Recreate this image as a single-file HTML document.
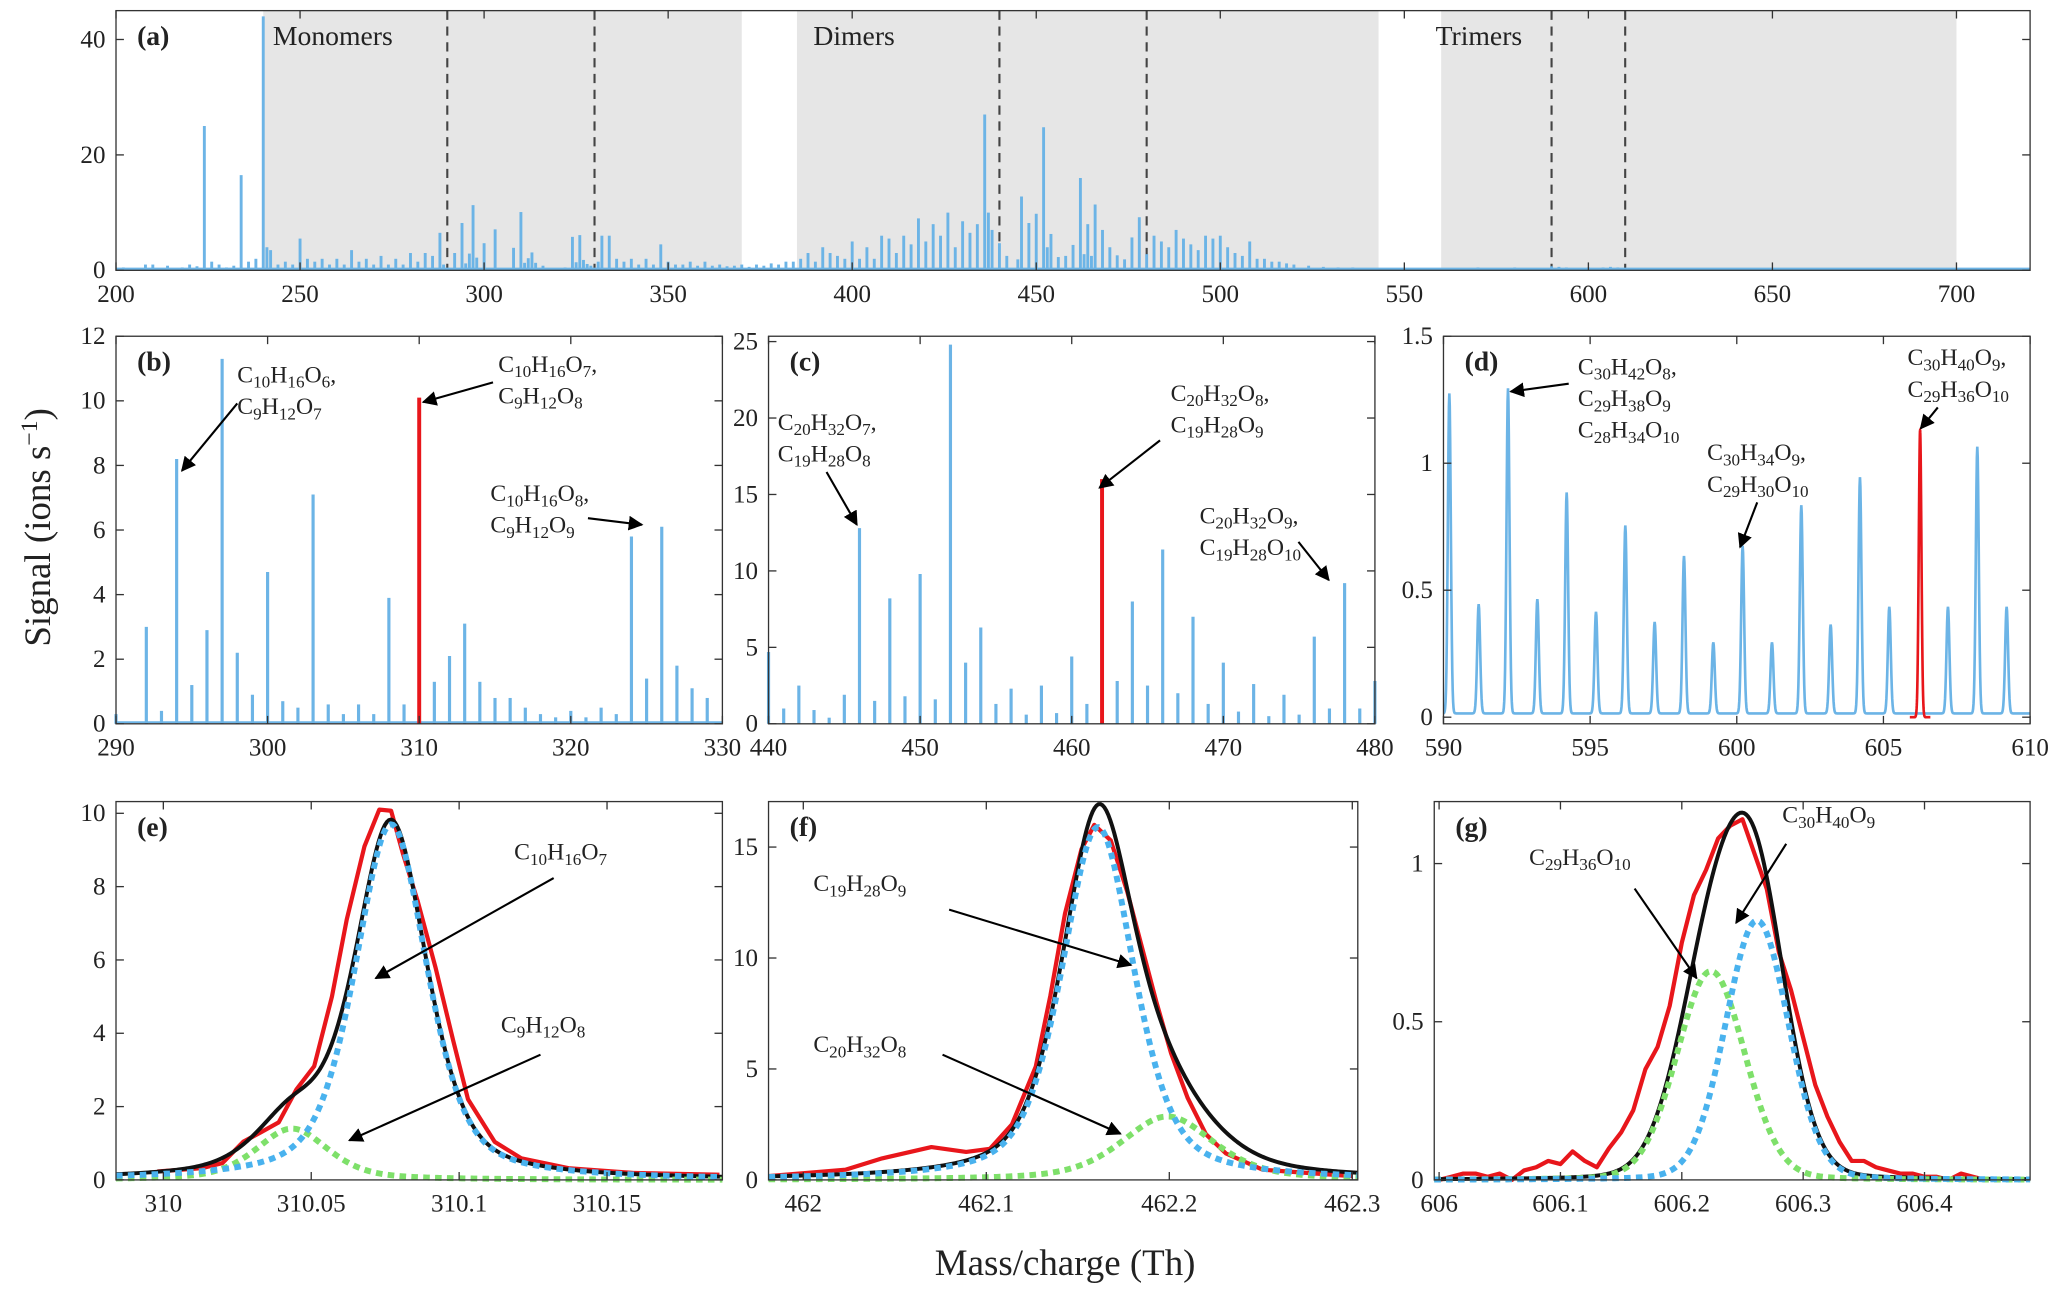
<!DOCTYPE html>
<html><head><meta charset="utf-8"><style>
html,body{margin:0;padding:0;background:#fff}
svg{display:block}
text{font-family:"Liberation Serif","DejaVu Serif",serif;fill:#222}
</style></head><body>
<svg id="fig" width="2067" height="1296" viewBox="0 0 1568 983" font-family="'Liberation Serif', 'DejaVu Serif', serif" xmlns="http://www.w3.org/2000/svg">
<defs><marker id="ah" viewBox="0 0 10 10" refX="9" refY="5" markerWidth="7" markerHeight="7" orient="auto"><path d="M0,0 L10,5 L0,10 z" fill="#000"/></marker></defs>
</svg>
<script>
// ---- Panel (a) data ----
const aMass=[202,205,208,210,214,218,220,222,224,226,228,230,232,234,236,238,240,241,242,244,246,248,250,252,254,256,258,260,262,264,266,268,270,272,274,276,278,280,282,284,286,288,289,
290,292,294,295,296,297,298,300,303,308,310,311,312,313,314,316,318,320,322,324,325,326,327,328,329,
331,332,334,336,338,340,342,344,346,348,350,352,354,356,358,360,362,364,366,368,370,372,374,376,378,380,382,384,386,388,390,392,394,396,398,400,402,404,406,408,410,412,414,416,418,420,422,424,426,428,430,432,434,436,437,438,
440,442,445,446,448,450,452,453,454,456,458,460,462,463,464,465,466,468,470,472,474,476,478,480,
482,484,486,488,490,492,494,496,498,500,502,504,506,508,510,512,514,516,518,520,524,528,532,536,540,545,550,560,570,580,590,592,594,600,604,606,608,615,630,650,680,700];
const aVal=[0.5,0.3,1,1,0.8,0.5,1,0.7,25,1.5,1,0.5,0.8,16.5,1.5,2,44,4,3.5,1,1.5,1,5.5,2,1.5,2,1,2,1,3.5,1.5,2,1,2.5,1,2,1,3,1.5,3,2.5,6.5,1,
0.3,3,8.2,1.2,2.9,11.3,2.2,4.7,7.1,3.9,10.1,1.3,2.1,3.1,1.3,0.8,0.3,0.4,0.5,5.8,1.4,6.1,1.8,1.1,0.8,
1.5,6,6,2,1.5,2,1,2,1,4.5,1.5,1,1,1.5,0.8,1.5,0.8,1,0.7,0.8,1,0.6,1,0.8,1.2,1,1.5,1.5,2,3,1.5,4,3,2.5,2,5,2,4,2,6,5.5,3,6,4.5,9,5,8,6,10,4,8.5,6.5,8,27,10,7,
4.7,2.5,1.9,12.8,8.2,9.8,24.8,4,6.3,2.3,2.5,4.4,16,2.8,8,2.5,11.4,7,4,2.6,1.9,5.7,9.2,2.8,
6,5,4,7,5.5,4.5,3.5,6,5.5,6,4,3,2.5,5,2,2,1.5,1.5,1.2,1,0.8,0.6,0.5,0.5,0.4,0.3,0.3,0.4,0.5,0.5,0.7,0.6,0.5,0.5,0.5,0.6,0.5,0.3,0.3,0.2,0.2,0.1];
const aXTicks=[200,250,300,350,400,450,500,550,600,650,700];
const aYTicks=[0,20,40];
const aShade=[[240,370],[385,543],[560,700]];
const aDashes=[290,330,440,480,590,610];
// ---- Panel (b) ----
const bMass=[290,292,293,294,295,296,297,298,299,300,301,302,303,304,305,306,307,308,309,311,312,313,314,315,316,317,318,319,320,321,322,323,324,325,326,327,328,329];
const bVal=[0.3,3.0,0.4,8.2,1.2,2.9,11.3,2.2,0.9,4.7,0.7,0.5,7.1,0.6,0.3,0.6,0.3,3.9,0.6,1.3,2.1,3.1,1.3,0.8,0.8,0.5,0.3,0.2,0.4,0.2,0.5,0.3,5.8,1.4,6.1,1.8,1.1,0.8];
const bRed=[[310,10.1]];
const bXTicks=[290,300,310,320,330];
const bYTicks=[0,2,4,6,8,10,12];
// ---- Panel (c) ----
const cMass=[440,441,442,443,444,445,446,447,448,449,450,451,452,453,454,455,456,457,458,459,460,461,463,464,465,466,467,468,469,470,471,472,473,474,475,476,477,478,479,480];
const cVal=[4.7,1.0,2.5,0.9,0.4,1.9,12.8,1.5,8.2,1.8,9.8,1.6,24.8,4.0,6.3,1.3,2.3,0.6,2.5,0.7,4.4,1.3,2.8,8.0,2.5,11.4,2.0,7.0,1.3,4.0,0.8,2.6,0.5,1.9,0.6,5.7,1.0,9.2,1.0,2.8];
const cRed=[[462,16.0]];
const cXTicks=[440,450,460,470,480];
const cYTicks=[0,5,10,15,20,25];
// ---- Panel (d) ----
const dMass=[590.2,591.2,592.2,593.2,594.2,595.2,596.2,597.2,598.2,599.2,600.2,601.2,602.2,603.2,604.2,605.2,607.2,608.2,609.2];
const dVal=[1.26,0.43,1.28,0.45,0.87,0.40,0.74,0.36,0.62,0.28,0.66,0.28,0.82,0.35,0.93,0.42,0.42,1.05,0.42];
const dRed=[[606.25,1.13]];
const dXTicks=[590,595,600,605,610];
const dYTicks=[0,0.5,1,1.5];
// ---- Panel (e) ----
const eRedX=[309.972,309.983,309.998,310.013,310.02,310.027,310.033,310.039,310.045,310.051,310.057,310.062,310.068,310.073,310.077,310.081,310.086,310.092,310.098,310.103,310.112,310.121,310.137,310.159,310.188];
const eRedY=[0.16,0.23,0.23,0.32,0.46,1.04,1.3,1.57,2.47,3.1,5.0,7.1,9.1,10.1,10.07,8.9,7.6,5.8,3.8,2.2,1.04,0.59,0.32,0.19,0.14];
const eComp=[[310.077,9.7,0.029],[310.0435,1.4,0.029]];
const eEta=0.5;
const eXTicks=[310,310.05,310.1,310.15];
const eYTicks=[0,2,4,6,8,10];
// ---- Panel (f) ----
const fRedX=[461.981,462.023,462.043,462.07,462.089,462.102,462.114,462.127,462.135,462.143,462.152,462.159,462.168,462.177,462.185,462.193,462.201,462.21,462.22,462.231,462.251,462.276,462.3];
const fRedY=[0.17,0.46,0.97,1.48,1.26,1.4,2.5,5.1,8.3,12.0,14.9,16.0,15.3,13.0,10.5,8.0,5.7,3.7,2.06,1.19,0.46,0.31,0.17];
const fComp=[[462.161,15.9,0.047],[462.199,2.86,0.06]];
const fEta=0.5;
const fXTicks=[462,462.1,462.2,462.3];
const fYTicks=[0,5,10,15];
// ---- Panel (g) ----
const gRedX=[606,606.01,606.02,606.03,606.04,606.05,606.06,606.07,606.08,606.09,606.1,606.11,606.12,606.13,606.14,606.15,606.16,606.17,606.18,606.19,606.2,606.21,606.22,606.23,606.24,606.25,606.26,606.27,606.28,606.29,606.3,606.31,606.32,606.33,606.34,606.35,606.36,606.37,606.38,606.39,606.4,606.41,606.42,606.43,606.44,606.45];
const gRedY=[0,0.01,0.02,0.02,0.01,0.02,0,0.03,0.04,0.06,0.05,0.09,0.06,0.04,0.1,0.15,0.22,0.35,0.42,0.55,0.75,0.9,0.98,1.08,1.12,1.14,1.03,0.92,0.72,0.6,0.45,0.3,0.2,0.12,0.06,0.06,0.04,0.03,0.02,0.02,0.01,0.01,0,0.02,0.01,0];
const gComp=[[606.262,0.82,0.061],[606.224,0.66,0.066]];
const gEta=0.1;
const gXTicks=[606,606.1,606.2,606.3,606.4];
const gYTicks=[0,0.5,1];

const NS="http://www.w3.org/2000/svg";
const svg=document.getElementById('fig');
function mk(tag,attrs,parent){const e=document.createElementNS(NS,tag);for(const k in attrs)e.setAttribute(k,attrs[k]);(parent||svg).appendChild(e);return e;}
function axis(x0,x1,y0,y1,xmin,xmax,ymin,ymax){
  return {x:v=>x0+(v-xmin)/(xmax-xmin)*(x1-x0), y:v=>y1-(v-ymin)/(ymax-ymin)*(y1-y0), x0,x1,y0,y1};
}
function frame(ax,xt,yt,xfmt,yfmt,name,label){
  const g=mk('g',{});
  
  
  const r=mk('rect',{x:ax.x0,y:ax.y0,width:ax.x1-ax.x0,height:ax.y1-ax.y0,fill:'none',stroke:'#333','stroke-width':1},g);
  
  
  xt.forEach(v=>{const X=ax.x(v);
    mk('line',{x1:X,x2:X,y1:ax.y1,y2:ax.y1-6,stroke:'#333'},g);
    mk('line',{x1:X,x2:X,y1:ax.y0,y2:ax.y0+6,stroke:'#333'},g);
    const t=mk('text',{x:X,y:ax.y1+24,'text-anchor':'middle','font-size':19},g);t.textContent=xfmt(v);
    
    
  });
  yt.forEach(v=>{const Y=ax.y(v);
    mk('line',{x1:ax.x0,x2:ax.x0+6,y1:Y,y2:Y,stroke:'#333'},g);
    mk('line',{x1:ax.x1,x2:ax.x1-6,y1:Y,y2:Y,stroke:'#333'},g);
    const t=mk('text',{x:ax.x0-8,y:Y+6,'text-anchor':'end','font-size':19},g);t.textContent=yfmt(v);
    
    
  });
  const l=mk('text',{x:ax.x0+16,y:ax.y0+26,'font-size':21,'font-weight':'bold'},g);l.textContent=label;
  
  
}
function formula(x,y,str,name){
  const t=mk('text',{x:x,y:y,'font-size':18});
  
  
  const parts=str.match(/\d+|[^\d]+/g);
  let prevSub=false;
  parts.forEach(p=>{
    const s=mk('tspan',{},t);
    if(/^\d+$/.test(p)){s.setAttribute('font-size',13);s.setAttribute('dy',4);prevSub=true;}
    else{s.setAttribute('dy',prevSub?-4:0);prevSub=false;}
    s.textContent=p;
  });
  return t;
}
function arrow(x1,y1,x2,y2,name){
  const a=mk('line',{x1,y1,x2,y2,stroke:'#000','stroke-width':1.6,'marker-end':'url(#ah)'});
  
  
}
function sticks(ax,xs,ys,color,w,name){
  xs.forEach((m,i)=>{
    const l=mk('line',{x1:ax.x(m),x2:ax.x(m),y1:ax.y(0),y2:ax.y(ys[i]),stroke:color,'stroke-width':w});
    
    
  });
}
function peaksCurve(ax,xs,ys,sig,xmin,xmax,color,name,base){
  let d='';const n=1400;
  for(let i=0;i<=n;i++){const x=xmin+(xmax-xmin)*i/n;let y=base;
    xs.forEach((m,j)=>{y+=ys[j]*Math.exp(-0.5*((x-m)/sig)**2);});
    d+=(i?'L':'M')+ax.x(x).toFixed(2)+','+ax.y(y).toFixed(2);}
  const p=mk('path',{d,fill:'none',stroke:color,'stroke-width':2});
  
  
}
function pv(comp,eta,x){const r=(x-comp[0])/comp[2];return comp[1]*((1-eta)*Math.exp(-2.7726*r*r)+eta/(1+4*r*r));}
function curve(ax,fn,xmin,xmax,style,name){
  let d='';const n=300;
  for(let i=0;i<=n;i++){const x=xmin+(xmax-xmin)*i/n;d+=(i?'L':'M')+ax.x(x).toFixed(2)+','+ax.y(fn(x)).toFixed(2);}
  const p=mk('path',Object.assign({d,fill:'none'},style));
  
  
}
function line(ax,xs,ys,color,name){
  const d=xs.map((x,i)=>(i?'L':'M')+ax.x(x).toFixed(2)+','+ax.y(ys[i]).toFixed(2)).join('');
  const p=mk('path',{d,fill:'none',stroke:color,'stroke-width':3.2,'stroke-linejoin':'round'});
  
  
}
const fmt=v=>String(+v.toFixed(3));

// Panel a
const A=axis(88,1540,8,205,200,720,0,45);
aShade.forEach(s=>{const r=mk('rect',{x:A.x(s[0]),y:A.y0,width:A.x(s[1])-A.x(s[0]),height:A.y1-A.y0,fill:'#e6e6e6'});
  
  });
aDashes.forEach(v=>{const l=mk('line',{x1:A.x(v),x2:A.x(v),y1:A.y0,y2:A.y1,stroke:'#444','stroke-width':1.6,'stroke-dasharray':'7,5'});
  
  });
mk('line',{x1:A.x(200),x2:A.x(720),y1:A.y(0.25),y2:A.y(0.25),stroke:'#6cb4e6','stroke-width':2});
sticks(A,aMass,aVal,'#6cb4e6',2.2,'spectrum-peak');
frame(A,aXTicks,aYTicks,fmt,fmt,'panel-a','(a)');
[['Monomers',207],['Dimers',617],['Trimers',1089]].forEach(t=>{const e=mk('text',{x:t[1],y:34,'font-size':21});e.textContent=t[0];
  
  });

// Panel b
const B=axis(88,548,255,549,290,330,0,12);
mk('line',{x1:B.x0,x2:B.x1,y1:B.y(0.05),y2:B.y(0.05),stroke:'#6cb4e6','stroke-width':1.5});
sticks(B,bMass,bVal,'#6cb4e6',2.4,'spectrum-peak');
sticks(B,bRed.map(p=>p[0]),bRed.map(p=>p[1]),'#e8161b',3,'highlight-peak');
frame(B,bXTicks,bYTicks,fmt,fmt,'panel-b','(b)');
formula(180,290,'C10H16O6,','annotation');formula(180,314,'C9H12O7','annotation');arrow(180,306,138,357,'annotation-arrow');
formula(378,282,'C10H16O7,','annotation');formula(378,306,'C9H12O8','annotation');arrow(374,290,321,305,'annotation-arrow');
formula(372,380,'C10H16O8,','annotation');formula(372,404,'C9H12O9','annotation');arrow(446,393,487,398,'annotation-arrow');

// Panel c
const C=axis(583,1043,255,549,440,480,0,25.35);
sticks(C,cMass,cVal,'#6cb4e6',2.4,'spectrum-peak');
sticks(C,cRed.map(p=>p[0]),cRed.map(p=>p[1]),'#e8161b',3,'highlight-peak');
frame(C,cXTicks,cYTicks,fmt,fmt,'panel-c','(c)');
formula(590,326,'C20H32O7,','annotation');formula(590,350,'C19H28O8','annotation');arrow(627,358,650,398,'annotation-arrow');
formula(888,304,'C20H32O8,','annotation');formula(888,328,'C19H28O9','annotation');arrow(880,334,834,370,'annotation-arrow');
formula(910,397,'C20H32O9,','annotation');formula(910,421,'C19H28O10','annotation');arrow(985,411,1008,440,'annotation-arrow');

// Panel d
const D=axis(1095,1540,255,549,590,610,-0.026,1.5);
peaksCurve(D,dMass,dVal,0.05,590,610,'#6cb4e6','spectrum-trace',0.015);
peaksCurve(D,dRed.map(p=>p[0]),dRed.map(p=>p[1]),0.045,605.9,606.6,'#e8161b','highlight-trace',0.0);
frame(D,dXTicks,dYTicks,fmt,fmt,'panel-d','(d)');
formula(1197,284,'C30H42O8,','annotation');formula(1197,308,'C29H38O9','annotation');formula(1197,332,'C28H34O10','annotation');arrow(1190,291,1146,297,'annotation-arrow');
formula(1295,349,'C30H34O9,','annotation');formula(1295,373,'C29H30O10','annotation');arrow(1333,381,1320,415,'annotation-arrow');
formula(1447,277,'C30H40O9,','annotation');formula(1447,301,'C29H36O10','annotation');arrow(1470,309,1457,325,'annotation-arrow');

// Fit panels
function fitPanel(ax,rx,ry,comp,eta,xmin,xmax,xt,yt,name,label){
  line(ax,rx,ry,'#e8161b',name+'-measured');
  curve(ax,x=>pv(comp[0],eta,x)+pv(comp[1],eta,x),xmin,xmax,{stroke:'#111','stroke-width':3},name+'-fit-total');
  curve(ax,x=>pv(comp[1],eta,x),xmin,xmax,{stroke:'#7ee06a','stroke-width':4.5,'stroke-dasharray':'5,4'},name+'-component-2');
  curve(ax,x=>pv(comp[0],eta,x),xmin,xmax,{stroke:'#49b2ee','stroke-width':4.5,'stroke-dasharray':'5,4'},name+'-component-1');
  frame(ax,xt,yt,fmt,fmt,name,label);
}
const E=axis(88,548,608,895,309.984,310.189,0,10.32);
fitPanel(E,eRedX.filter(x=>x>=309.984),eRedY.filter((v,i)=>eRedX[i]>=309.984),eComp,eEta,309.984,310.189,eXTicks,eYTicks,'panel-e','(e)');
formula(390,652,'C10H16O7','annotation');arrow(420,666,285,742,'annotation-arrow');
formula(380,783,'C9H12O8','annotation');arrow(410,800,265,865,'annotation-arrow');
const F=axis(583,1030,608,895,461.981,462.303,0,17.05);
fitPanel(F,fRedX,fRedY,fComp,fEta,461.981,462.303,fXTicks,fYTicks,'panel-f','(f)');
formula(617,676,'C19H28O9','annotation');arrow(720,690,858,732,'annotation-arrow');
formula(617,798,'C20H32O8','annotation');arrow(715,800,850,860,'annotation-arrow');
const G=axis(1088,1540,608,895,605.996,606.487,0,1.196);
fitPanel(G,gRedX,gRedY,gComp,gEta,605.996,606.487,gXTicks,gYTicks,'panel-g','(g)');
formula(1160,656,'C29H36O10','annotation');arrow(1240,674,1287,742,'annotation-arrow');
formula(1352,624,'C30H40O9','annotation');arrow(1355,640,1317,700,'annotation-arrow');

// axis titles
const yl=mk('text',{x:0,y:0,'font-size':28,'text-anchor':'middle',transform:'translate(38,400) rotate(-90)'});


yl.innerHTML='Signal (ions s<tspan font-size="18" dy="-10">−1</tspan><tspan dy="10">)</tspan>';
const xl=mk('text',{x:808,y:967,'font-size':28,'text-anchor':'middle'});


xl.textContent='Mass/charge (Th)';
</script>
</body></html>
